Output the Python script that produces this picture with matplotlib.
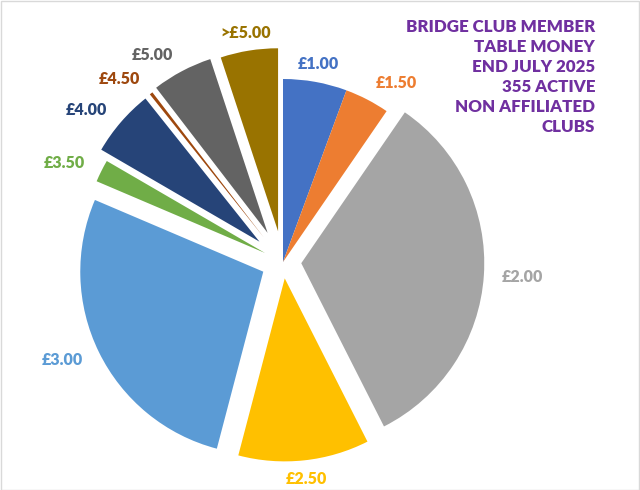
import numpy as np
import matplotlib.pyplot as plt
from matplotlib.patches import Rectangle

plt.rcParams['font.family'] = ['Lato', 'DejaVu Sans']

# table money bands and number of clubs in each
bands = ['£1.00', '£1.50', '£2.00', '£2.50', '£3.00', '£3.50', '£4.00', '£4.50', '£5.00', '>£5.00']
clubs = [20, 14, 117, 41, 97, 7, 21, 1, 19, 18]
explode = [0.0, 0.0, 0.10, 0.09, 0.12, 0.11, 0.17, 0.17, 0.18, 0.17]
colours = ['#4472C4', '#ED7D31', '#A5A5A5', '#FFC000', '#5B9BD5',
           '#70AD47', '#264478', '#9E480E', '#636363', '#997300']
title_lines = ['BRIDGE CLUB MEMBER', 'TABLE MONEY', 'END JULY 2025',
               '355 ACTIVE', 'NON AFFILIATED', 'CLUBS']

W, H = 640, 490
cx, cy, R = 283, 262, 183

fig = plt.figure(figsize=(W / 100, H / 100), dpi=100)
ax = fig.add_axes([0, 0, 1, 1])

wedges, texts = ax.pie(clubs, colors=colours, explode=explode, startangle=90,
                       counterclock=False, radius=1.0, labels=bands,
                       labeldistance=1.1,
                       wedgeprops=dict(linewidth=0))

for t, w, c in zip(texts, wedges, colours):
    mid = np.deg2rad((w.theta1 + w.theta2) / 2)
    t.set_color(c)
    t.set_fontsize(11.5)
    t.set_fontweight('heavy')
    if abs(np.cos(mid)) < 0.25:
        t.set_ha('center')

ax.set_xlim(-cx / R, (W - cx) / R)
ax.set_ylim(-(H - cy) / R, cy / R)
ax.set_aspect('equal', adjustable='datalim')
ax.axis('off')

for i, line in enumerate(title_lines):
    fig.text(595 / W, 1 - (27 + 20 * i) / H, line, ha='right', va='center',
             fontsize=12.2, fontweight='heavy', color='#7030A0')

fig.patches.append(Rectangle((0.001, 0.001), 0.997, 0.997, transform=fig.transFigure,
                             fill=False, edgecolor='#D9D9D9', linewidth=1))

fig.savefig('out.png', dpi=100)
